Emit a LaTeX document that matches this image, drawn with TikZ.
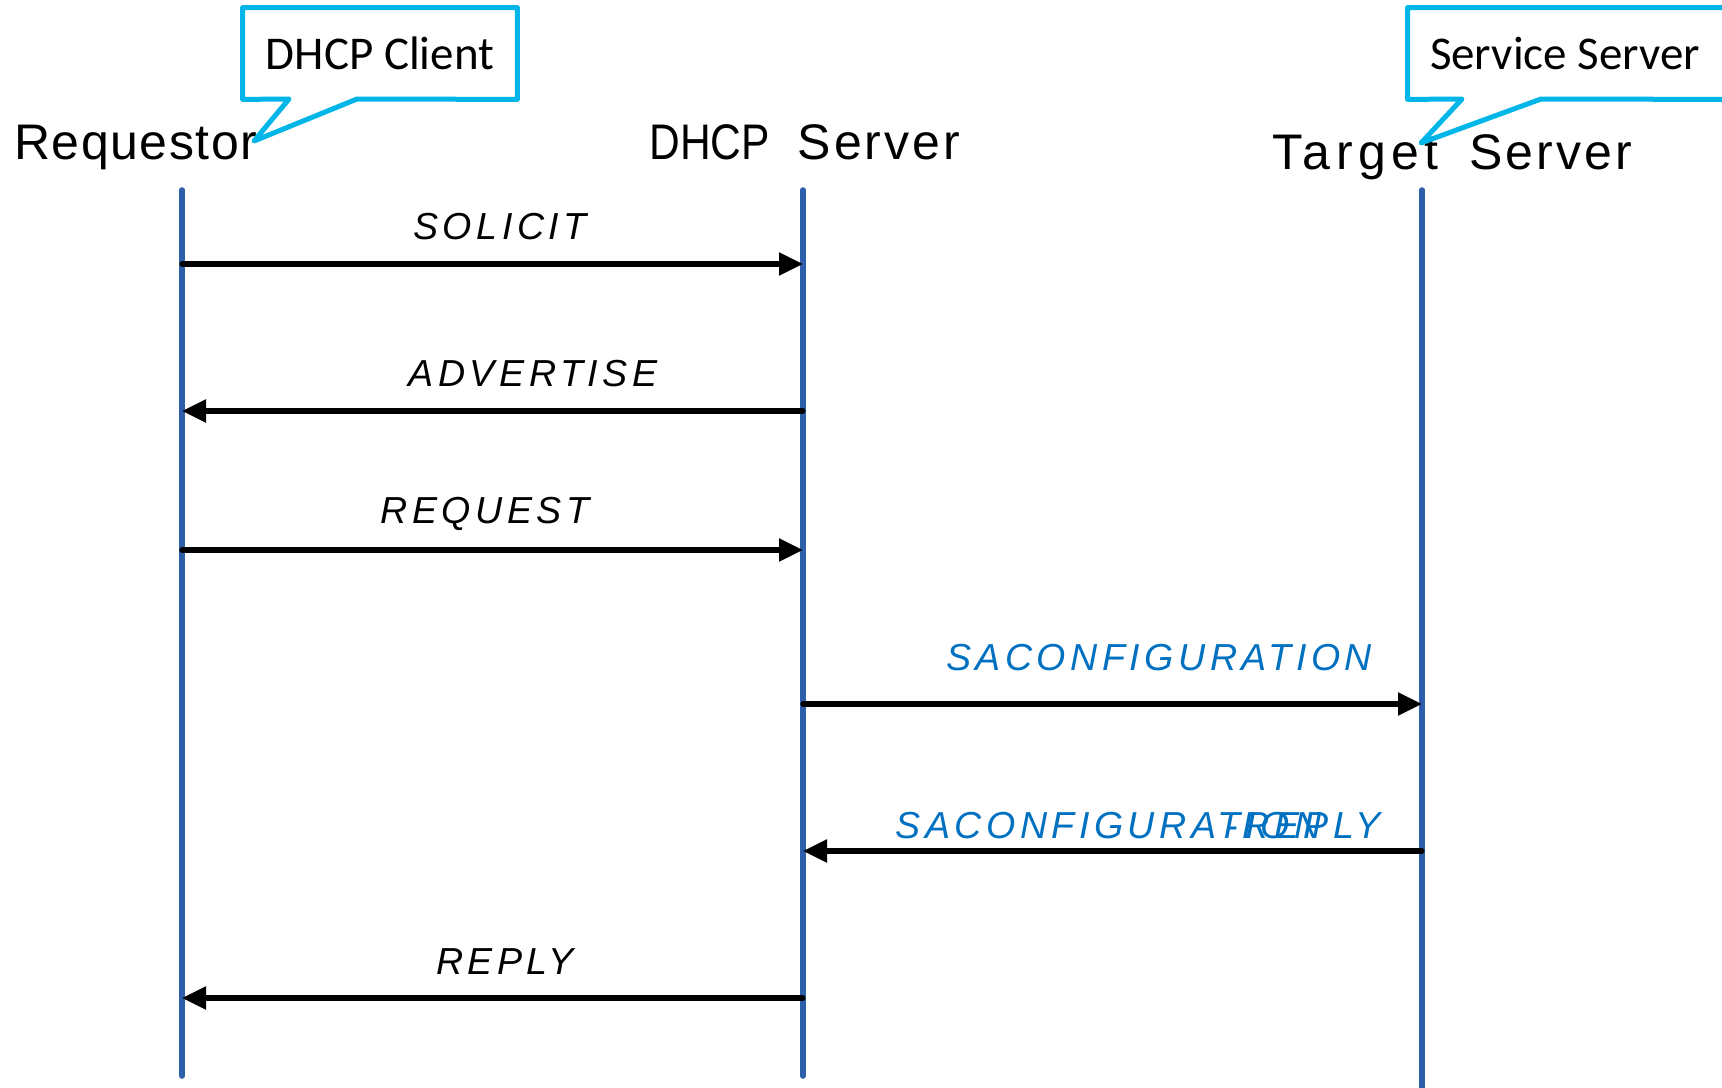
\documentclass[tikz,border=0pt]{standalone}
\usepackage{fontspec}
\setmainfont{Liberation Sans}
\newfontfamily\headfont[LetterSpace=3]{Liberation Sans}
\newfontfamily\narrowfont[FakeStretch=0.85]{Liberation Sans}
\newfontfamily\serverfont[LetterSpace=6]{Liberation Sans}
\newfontfamily\wideheadfont[LetterSpace=11]{Liberation Sans}
\newfontfamily\msgfont[LetterSpace=12]{Liberation Sans}
\newfontfamily\notefont{Carlito}
\usetikzlibrary{arrows.meta}
\definecolor{lifeblue}{HTML}{2E5FAA}
\definecolor{notecyan}{HTML}{00B6E8}
\definecolor{msgblue}{HTML}{0070C0}
\tikzstyle{actor} = [inner sep=0, anchor=base west, font=\fontsize{25}{28}\selectfont\headfont]
\tikzstyle{lifeline} = [line width=2.8pt, draw=lifeblue, line cap=round]
\tikzstyle{note} = [inner sep=0, minimum height=45.5pt, font=\fontsize{23.5}{27}\selectfont\notefont]
\tikzstyle{callout} = [line width=2.5pt, draw=notecyan, line join=round]
\tikzstyle{msg} = [inner sep=0, anchor=base, font=\fontsize{18.8}{22}\selectfont\msgfont\itshape]
\tikzstyle{arrow} = [line width=2.6pt, line cap=round, -{Triangle[length=12pt,width=11pt]}]

\begin{document}
\begin{tikzpicture}[x=0.5pt,y=-0.5pt]
\useasboundingbox (0,0) rectangle (1722,1087);

\node (req) [actor] at (14,159) {Requestor};
\node (dhcp) [actor] at (649,159) {{\narrowfont DHCP}\hspace{14pt}{\serverfont Server}};
\node (target) [actor] at (1272,169) {{\wideheadfont Target}\ \ {\serverfont Server}};

% lifelines
\coordinate (reqTop) at (182,190);
\coordinate (reqBot) at (182,1076);
\coordinate (dhcpTop) at (803,190);
\coordinate (dhcpBot) at (803,1076);
\coordinate (targetTop) at (1422,190);
\coordinate (targetBot) at (1422,1090);
\draw [lifeline] (reqTop) -- (reqBot);
\draw [lifeline] (dhcpTop) -- (dhcpBot);
\draw [lifeline] (targetTop) -- (targetBot);

% callouts
\node (client) [note, minimum width=137pt] at (380,53.5) {DHCP Client};
\coordinate (clientTip) at (254,141);
\draw [callout] (client.south east) -- (client.north east) -- (client.north west) -- (client.south west)
  -- (289,99) -- (clientTip) -- (357,99) -- cycle;
\node (service) [note, minimum width=157pt] at (1565,53.5) {Service Server};
\coordinate (serviceTip) at (1421,143);
\draw [callout] (service.north east) -- (service.north west) -- (service.south west)
  -- (1462,99) -- (serviceTip) -- (1541,99) -- (service.south east);

% messages
\coordinate (m1) at (0,264);
\coordinate (m2) at (0,411);
\coordinate (m3) at (0,550);
\coordinate (m4) at (0,704);
\coordinate (m5) at (0,851);
\coordinate (m6) at (0,998);
\draw [arrow] (reqTop |- m1) -- (dhcpTop |- m1);
\draw [arrow] (dhcpTop |- m2) -- (reqTop |- m2);
\draw [arrow] (reqTop |- m3) -- (dhcpTop |- m3);
\draw [arrow] (dhcpTop |- m4) -- (targetTop |- m4);
\draw [arrow] (targetTop |- m5) -- (dhcpTop |- m5);
\draw [arrow] (dhcpTop |- m6) -- (reqTop |- m6);

\node (solicit) [msg] at (500,239) {SOLICIT};
\node (advertise) [msg] at (533,386) {ADVERTISE};
\node (request) [msg] at (485,523) {REQUEST};
\node (saconf) [msg, text=msgblue] at (1159,670) {SACONFIGURATION};
\node (saconfRep) [msg, text=msgblue, anchor=base west] at (895,838) {SACONFIGURATION};
\node (saconfRepTail) [msg, text=msgblue, anchor=base east] at (1381,838) {-REPLY};
\node (reply) [msg] at (505,974) {REPLY};

\end{tikzpicture}
\end{document}
